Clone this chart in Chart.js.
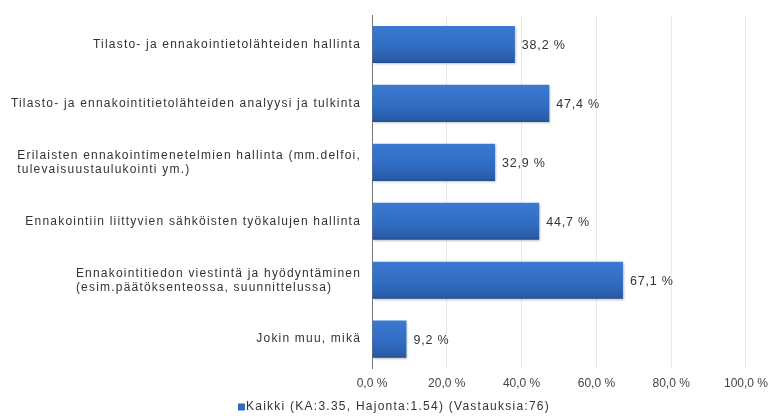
<!DOCTYPE html>
<html>
<head>
<meta charset="utf-8">
<script src="https://cdn.jsdelivr.net/npm/chart.js@4/dist/chart.umd.min.js"></script>
<style>
  html, body { margin: 0; padding: 0; background: #fff; }
  #wrap { width: 776px; height: 416px; }
</style>
</head>
<body>
<div id="wrap"><canvas id="chart"></canvas></div>
<script>
// Categories (multi-line ones as arrays)
const categories = [
    'Tilasto- ja ennakointietolähteiden hallinta',
    'Tilasto- ja ennakointitietolähteiden analyysi ja tulkinta',
    ['Erilaisten ennakointimenetelmien hallinta (mm.delfoi,', 'tulevaisuustaulukointi ym.)'],
    'Ennakointiin liittyvien sähköisten työkalujen hallinta',
    ['Ennakointitiedon viestintä ja hyödyntäminen', '(esim.päätöksenteossa, suunnittelussa)'],
    'Jokin muu, mikä'
];
const values = [38.2, 47.4, 32.9, 44.7, 67.1, 9.2];
const seriesName = 'Kaikki (KA:3.35, Hajonta:1.54) (Vastauksia:76)';
const xTicks = [0, 20, 40, 60, 80, 100];

const fmt = v => v.toFixed(1).replace('.', ',') + ' %';
const FONT = 'Liberation Sans, Arial, sans-serif';
const BAR_BLUE = '#2f6bbf';

// Category labels: block right aligned to the axis, lines left aligned inside it
const categoryLabels = {
    id: 'categoryLabels',
    afterDraw(chart) {
        const ctx = chart.ctx;
        const y = chart.scales.y;
        ctx.save();
        ctx.font = '12px ' + FONT;
        ctx.letterSpacing = '1.2px';
        ctx.fillStyle = '#333';
        ctx.textBaseline = 'middle';
        ctx.textAlign = 'left';
        const right = y.right - 11;
        categories.forEach((c, i) => {
            const lines = Array.isArray(c) ? c : [c];
            const w = Math.max(...lines.map(l => ctx.measureText(l).width));
            const yc = y.getPixelForValue(i);
            const lh = 14;
            lines.forEach((l, k) => {
                ctx.fillText(l, right - w, yc + (k - (lines.length - 1) / 2) * lh);
            });
        });
        ctx.restore();
    }
};

// Value labels next to the bars
const valueLabels = {
    id: 'valueLabels',
    afterDatasetsDraw(chart) {
        const ctx = chart.ctx;
        const meta = chart.getDatasetMeta(0);
        ctx.save();
        ctx.font = '12.5px ' + FONT;
        ctx.letterSpacing = '0.8px';
        ctx.fillStyle = '#333';
        ctx.textBaseline = 'middle';
        meta.data.forEach((bar, i) => {
            ctx.fillText(fmt(values[i]), bar.x + 7, bar.y + 1);
        });
        ctx.restore();
    }
};

// Legend drawn at the bottom
const bottomLegend = {
    id: 'bottomLegend',
    afterDraw(chart) {
        const ctx = chart.ctx;
        ctx.save();
        ctx.font = '12px ' + FONT;
        ctx.letterSpacing = '1.25px';
        ctx.textBaseline = 'middle';
        const tw = ctx.measureText(seriesName).width;
        const total = 8 + tw;
        const x0 = chart.width / 2 + 6 - total / 2;
        const yc = chart.height - 9;
        ctx.fillStyle = BAR_BLUE;
        ctx.fillRect(x0, yc - 3.5, 7, 7);
        ctx.fillStyle = '#333';
        ctx.fillText(seriesName, x0 + 8, yc);
        ctx.restore();
    }
};

// Soft shadow under the bars
const barShadow = {
    id: 'barShadow',
    beforeDatasetsDraw(chart) {
        const ctx = chart.ctx;
        ctx.save();
        ctx.shadowColor = 'rgba(0,0,0,0.25)';
        ctx.shadowBlur = 2;
        ctx.shadowOffsetX = 1;
        ctx.shadowOffsetY = 1;
    },
    afterDatasetsDraw(chart) {
        chart.ctx.restore();
    }
};

function barGradient(context) {
    const chart = context.chart;
    const y = chart.scales.y;
    if (!y || !chart.chartArea) return BAR_BLUE;
    const yc = y.getPixelForValue(context.dataIndex);
    const g = chart.ctx.createLinearGradient(0, yc - 19, 0, yc + 19);
    g.addColorStop(0, '#3b7ad3');
    g.addColorStop(0.6, '#306bc0');
    g.addColorStop(0.92, '#2a5ca6');
    g.addColorStop(1, '#214c8c');
    return g;
}

new Chart(document.getElementById('chart'), {
    type: 'bar',
    data: {
        labels: categories,
        datasets: [{
            label: seriesName,
            data: values,
            backgroundColor: barGradient,
            borderWidth: 0,
            barPercentage: 0.7,
            categoryPercentage: 0.9
        }]
    },
    options: {
        indexAxis: 'y',
        responsive: true,
        maintainAspectRatio: false,
        animation: false,
        layout: { padding: { top: 15, right: 28, bottom: 17, left: 0 } },
        scales: {
            x: {
                min: 0,
                max: 100,
                afterBuildTicks(scale) { scale.ticks = xTicks.map(v => ({ value: v })); },
                ticks: {
                    callback: v => fmt(v),
                    color: '#444',
                    font: { family: FONT, size: 12 },
                    padding: 8,
                    maxRotation: 0
                },
                grid: { color: '#e9e9e9', drawTicks: false },
                border: { display: false }
            },
            y: {
                afterFit(scale) { scale.width = 372; },
                ticks: { display: false },
                grid: { display: false, drawTicks: false },
                border: { display: true, color: '#777', width: 1 }
            }
        },
        plugins: {
            legend: { display: false },
            tooltip: { enabled: false }
        }
    },
    plugins: [barShadow, valueLabels, categoryLabels, bottomLegend]
});
</script>
</body>
</html>
